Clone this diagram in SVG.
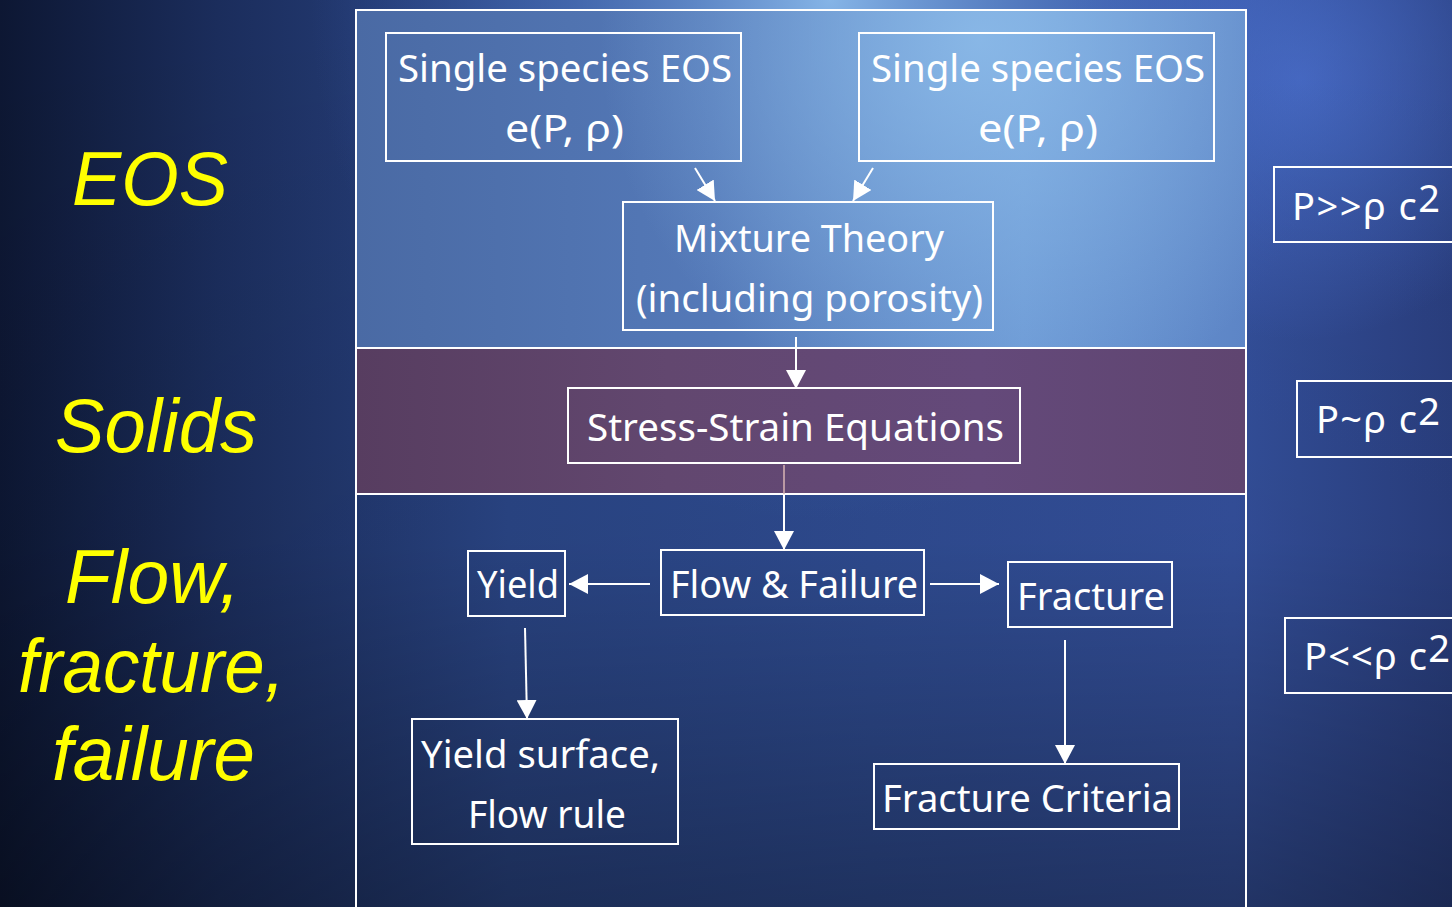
<svg xmlns="http://www.w3.org/2000/svg" width="1452" height="907" viewBox="0 0 1452 907">
<defs>
<linearGradient id="bgH" x1="0" y1="0" x2="1" y2="0">
<stop offset="0" stop-color="#0d1733"/>
<stop offset="0.15" stop-color="#1b2d5c"/>
<stop offset="0.35" stop-color="#2a4585"/>
<stop offset="0.6" stop-color="#2f4c92"/>
<stop offset="0.85" stop-color="#34509c"/>
<stop offset="1" stop-color="#2a3f80"/>
</linearGradient>
<linearGradient id="bgV" x1="0" y1="0" x2="0" y2="1">
<stop offset="0" stop-color="#000" stop-opacity="0"/>
<stop offset="0.6" stop-color="#000" stop-opacity="0.05"/>
<stop offset="1" stop-color="#000" stop-opacity="0.35"/>
</linearGradient>
<radialGradient id="glowTop" cx="830" cy="0" r="520" gradientUnits="userSpaceOnUse">
<stop offset="0" stop-color="#8fc0f0" stop-opacity="0.9"/>
<stop offset="0.5" stop-color="#5a86d0" stop-opacity="0.5"/>
<stop offset="1" stop-color="#3a5cb0" stop-opacity="0"/>
</radialGradient>
<radialGradient id="glowRight" cx="1300" cy="80" r="260" gradientUnits="userSpaceOnUse">
<stop offset="0" stop-color="#4a6fcc" stop-opacity="0.8"/>
<stop offset="1" stop-color="#4a6fcc" stop-opacity="0"/>
</radialGradient>
<linearGradient id="eosFill" x1="0" y1="0" x2="1" y2="0">
<stop offset="0" stop-color="#4a6aa4"/>
<stop offset="0.4" stop-color="#5479b8"/>
<stop offset="0.75" stop-color="#6b98d4"/>
<stop offset="1" stop-color="#5d85c6"/>
</linearGradient>
<radialGradient id="eosGlow" cx="980" cy="40" r="380" gradientUnits="userSpaceOnUse">
<stop offset="0" stop-color="#8ebdea" stop-opacity="0.85"/>
<stop offset="1" stop-color="#8ebdea" stop-opacity="0"/>
</radialGradient>
<linearGradient id="solFill" x1="0" y1="0" x2="1" y2="0">
<stop offset="0" stop-color="#573d60"/>
<stop offset="0.35" stop-color="#62476f"/>
<stop offset="0.7" stop-color="#64497a"/>
<stop offset="1" stop-color="#5f4570"/>
</linearGradient>
<marker id="arr" markerUnits="userSpaceOnUse" markerWidth="20" markerHeight="20" refX="19" refY="10" orient="auto">
<path d="M0,0 L19,10 L0,20 z" fill="#ffffff"/>
</marker>
<style>
.box{fill:none;stroke:#ffffff;stroke-width:2}
.t{font-family:"Noto Sans","Open Sans",sans-serif;font-size:38px;fill:#ffffff;text-anchor:start}
.lbl{font-family:"Liberation Sans",Arial,sans-serif;font-style:italic;font-size:76px;fill:#ffff00}
.con{stroke:#ffffff;stroke-width:2;fill:none}
</style>
</defs>

<g id="background">
<rect x="0" y="0" width="1452" height="907" fill="url(#bgH)"/>
<rect x="0" y="0" width="1452" height="907" fill="url(#glowTop)"/>
<rect x="0" y="0" width="1452" height="907" fill="url(#glowRight)"/>
<rect x="0" y="0" width="1452" height="907" fill="url(#bgV)"/>
</g>

<g id="regions">
<rect x="356" y="10" width="890" height="338" fill="url(#eosFill)"/>
<rect x="356" y="10" width="890" height="338" fill="url(#eosGlow)"/>
<rect x="356" y="348" width="890" height="146" fill="url(#solFill)"/>
<path d="M356,907 V10 H1246 V907" class="con" stroke-width="2"/>
<line x1="356" y1="348" x2="1246" y2="348" class="con"/>
<line x1="356" y1="494" x2="1246" y2="494" class="con"/>
</g>

<g id="labels">
<text class="lbl" x="72" y="205" textLength="156" lengthAdjust="spacingAndGlyphs">EOS</text>
<text class="lbl" x="55" y="452" textLength="202" lengthAdjust="spacingAndGlyphs">Solids</text>
<text class="lbl" x="65" y="603" textLength="175" lengthAdjust="spacingAndGlyphs">Flow,</text>
<text class="lbl" x="18" y="692" textLength="267" lengthAdjust="spacingAndGlyphs">fracture,</text>
<text class="lbl" x="52" y="780" textLength="203" lengthAdjust="spacingAndGlyphs">failure</text>
</g>

<g id="connectors">
<line class="con" x1="695" y1="168" x2="715" y2="201" marker-end="url(#arr)"/>
<line class="con" x1="873" y1="168" x2="853" y2="201" marker-end="url(#arr)"/>
<line class="con" x1="796" y1="337" x2="796" y2="389" marker-end="url(#arr)"/>
<line x1="784" y1="465" x2="784" y2="494" stroke="#d8b4b4" stroke-width="1.5"/>
<line class="con" x1="784" y1="494" x2="784" y2="550" marker-end="url(#arr)"/>
<line class="con" x1="650" y1="584" x2="569" y2="584" marker-end="url(#arr)"/>
<line class="con" x1="930" y1="584" x2="999" y2="584" marker-end="url(#arr)"/>
<line class="con" x1="525" y1="628" x2="527" y2="719" marker-end="url(#arr)"/>
<line class="con" x1="1065" y1="640" x2="1065" y2="764" marker-end="url(#arr)"/>
</g>

<g id="eos-left">
<rect class="box" x="386" y="33" width="355" height="128"/>
<text class="t" x="398" y="82" textLength="334" lengthAdjust="spacingAndGlyphs">Single species EOS</text>
<text class="t" x="505" y="142" textLength="119" lengthAdjust="spacingAndGlyphs">e(P, ρ)</text>
</g>

<g id="eos-right">
<rect class="box" x="859" y="33" width="355" height="128"/>
<text class="t" x="871" y="82" textLength="334" lengthAdjust="spacingAndGlyphs">Single species EOS</text>
<text class="t" x="978" y="142" textLength="120" lengthAdjust="spacingAndGlyphs">e(P, ρ)</text>
</g>

<g id="mixture">
<rect class="box" x="623" y="202" width="370" height="128"/>
<text class="t" x="674" y="252" textLength="270" lengthAdjust="spacingAndGlyphs">Mixture Theory</text>
<text class="t" x="636" y="312" textLength="347" lengthAdjust="spacingAndGlyphs">(including porosity)</text>
</g>

<g id="stress-strain">
<rect class="box" x="568" y="388" width="452" height="75"/>
<text class="t" x="587" y="441" textLength="417" lengthAdjust="spacingAndGlyphs">Stress-Strain Equations</text>
</g>

<g id="flow-failure">
<rect class="box" x="661" y="550" width="263" height="65"/>
<text class="t" x="670" y="598" textLength="248" lengthAdjust="spacingAndGlyphs">Flow &amp; Failure</text>
</g>

<g id="yield">
<rect class="box" x="468" y="551" width="97" height="65"/>
<text class="t" x="477" y="598" textLength="82" lengthAdjust="spacingAndGlyphs">Yield</text>
</g>

<g id="fracture">
<rect class="box" x="1008" y="562" width="164" height="65"/>
<text class="t" x="1017" y="610" textLength="148" lengthAdjust="spacingAndGlyphs">Fracture</text>
</g>

<g id="yield-surface">
<rect class="box" x="412" y="719" width="266" height="125"/>
<text class="t" x="421" y="768" textLength="239" lengthAdjust="spacingAndGlyphs">Yield surface,</text>
<text class="t" x="468" y="828" textLength="158" lengthAdjust="spacingAndGlyphs">Flow rule</text>
</g>

<g id="fracture-criteria">
<rect class="box" x="874" y="764" width="305" height="65"/>
<text class="t" x="882" y="812" textLength="291" lengthAdjust="spacingAndGlyphs">Fracture Criteria</text>
</g>

<g id="regime-high">
<rect class="box" x="1274" y="167" width="200" height="75"/>
<text class="t" x="1292" y="220" textLength="148" lengthAdjust="spacing">P&gt;&gt;ρ c<tspan dy="-8">2</tspan></text>
</g>

<g id="regime-mid">
<rect class="box" x="1297" y="381" width="180" height="76"/>
<text class="t" x="1316" y="433" textLength="124" lengthAdjust="spacing">P~ρ c<tspan dy="-8">2</tspan></text>
</g>

<g id="regime-low">
<rect class="box" x="1285" y="618" width="190" height="75"/>
<text class="t" x="1304" y="670" textLength="146" lengthAdjust="spacing">P&lt;&lt;ρ c<tspan dy="-8">2</tspan></text>
</g>
</svg>
